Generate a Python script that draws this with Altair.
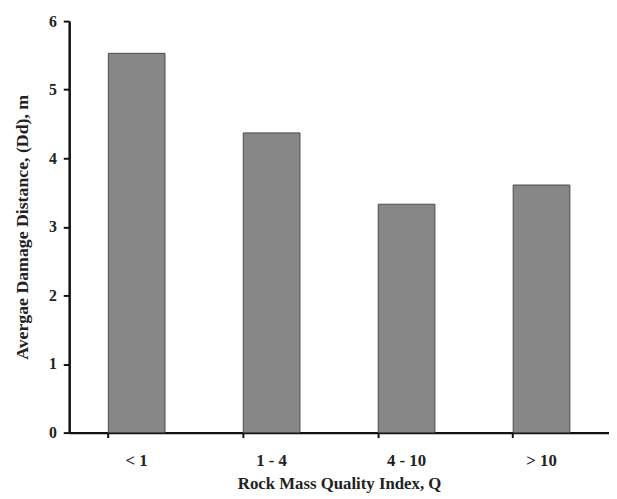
import altair as alt
import pandas as pd

categories = ["< 1", "1 - 4", "4 - 10", "> 10"]
values = [5.53, 4.37, 3.33, 3.61]

df = pd.DataFrame({"cat": categories, "val": values})

FONT = "Liberation Serif"

chart = alt.Chart(df).mark_bar(
    fill="#878787", stroke="#4a4a4a", strokeWidth=1
).encode(
    x=alt.X("cat:N", sort=categories,
            scale=alt.Scale(paddingInner=0.58, paddingOuter=0.29),
            axis=alt.Axis(title="Rock Mass Quality Index, Q", labelAngle=0,
                          bandPosition=0, tickSize=5, labelPadding=15,
                          titlePadding=8, labelFontSize=17, titleFontSize=17)),
    y=alt.Y("val:Q", scale=alt.Scale(domain=[0, 6]),
            axis=alt.Axis(title="Avergae Damage Distance, (Dd), m",
                          values=[0, 1, 2, 3, 4, 5, 6], format="d",
                          tickSize=6, labelPadding=7, titlePadding=17,
                          labelFontSize=16, titleFontSize=18,
                          grid=False)),
).properties(
    width=547, height=417,
    autosize=alt.AutoSizeParams(type="none"),
    padding={"left": 62, "top": 10, "right": 0, "bottom": 64},
).configure_view(stroke=None).configure_axis(
    domainColor="#111", domainWidth=2.5, tickColor="#111", tickWidth=2,
    labelFont=FONT, titleFont=FONT, labelFontWeight="bold",
    titleFontWeight="bold",
    labelColor="#222", titleColor="#222", grid=False,
)

chart.save("out.html", embed_options={"renderer": "svg", "actions": False})
